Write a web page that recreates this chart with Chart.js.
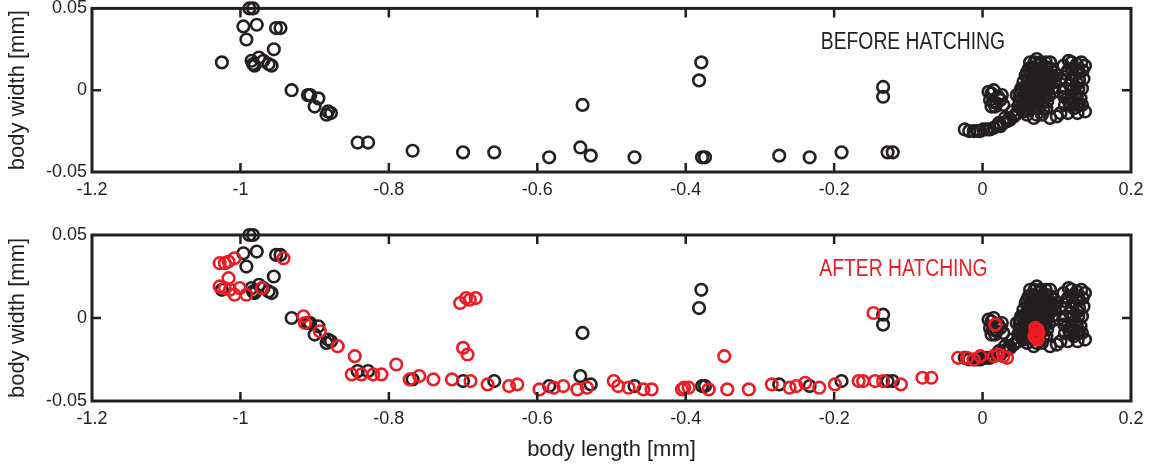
<!DOCTYPE html>
<html>
<head>
<meta charset="utf-8">
<script src="https://cdn.jsdelivr.net/npm/chart.js@4/dist/chart.umd.min.js"></script>
<style>
  body { margin: 0; background: #fff; }
  #wrap { position: relative; width: 1154px; height: 466px; }
  canvas { position: absolute; left: 0; }
  #before { top: 0; }
  #after { top: 220px; }
</style>
</head>
<body>
<div id="wrap">
  <canvas id="before" width="1154" height="220"></canvas>
  <canvas id="after" width="1154" height="246"></canvas>
</div>
<script>
// body outline samples before hatching (black, shown in both panels)
const beforeX = [
  -0.988, -0.983, -0.996, -0.978, -0.992, -0.952, -0.946, -0.955, -1.025, -0.985,
  -0.981, -0.975, -0.969, -0.962, -0.958, -0.983, -0.931, -0.909, -0.906, -0.895,
  -0.900, -0.882, -0.878, -0.884, -0.842, -0.828, -0.768, -0.700, -0.658, -0.584,
  -0.542, -0.539, -0.528, -0.469, -0.379, -0.382, -0.378, -0.374, -0.274, -0.233,
  -0.190, -0.128, -0.121, -0.134, -0.134,
  // tail end near the origin
  -0.024, -0.012, -0.003, 0.006, 0.015, 0.024, 0.033, 0.042, 0.048, 0.040, 0.036,
  -0.018, -0.007, 0.001, 0.010, 0.019, 0.028, 0.037, 0.044, 0.030, 0.022,
  0.008, 0.015, 0.026, 0.010, 0.019, 0.028, 0.012, 0.012, 0.021, 0.014, 0.024, 0.017,
  // main cluster
  0.073, 0.091, 0.060, 0.082, 0.066, 0.087, 0.060, 0.078, 0.055, 0.073,
  0.096, 0.100, 0.051, 0.048, 0.069, 0.046, 0.064, 0.080, 0.071, 0.084,
  0.062, 0.075, 0.089, 0.064, 0.082, 0.068, 0.077, 0.057, 0.070, 0.085,
  0.079, 0.066, 0.092, 0.058, 0.074, 0.086, 0.062, 0.053,
  0.070, 0.078, 0.085,
  0.062, 0.070, 0.081, 0.092,
  0.058, 0.064, 0.072, 0.079, 0.086, 0.094,
  0.055, 0.061, 0.068, 0.075, 0.082, 0.090, 0.097,
  0.052, 0.059, 0.065, 0.073, 0.080, 0.088, 0.094,
  0.050, 0.056, 0.063, 0.069, 0.076, 0.083, 0.090,
  0.050, 0.057, 0.066, 0.073, 0.080, 0.087,
  0.052, 0.059, 0.067, 0.076, 0.086,
  0.060, 0.073, 0.080,
  // right-hand column
  0.116, 0.127, 0.138, 0.123, 0.136, 0.118, 0.134, 0.114, 0.132, 0.123,
  0.138, 0.100, 0.091, 0.109, 0.105, 0.109, 0.120, 0.130, 0.125, 0.128,
  0.117, 0.130, 0.112,
  0.120, 0.133, 0.115, 0.126, 0.135, 0.112, 0.120, 0.130, 0.112, 0.122,
  0.129, 0.110, 0.120, 0.127, 0.111, 0.119, 0.127, 0.134, 0.105, 0.115, 0.128
];
const beforeY = [
  0.050, 0.050, 0.039, 0.040, 0.031, 0.038, 0.038, 0.025, 0.017, 0.018,
  0.015, 0.020, 0.018, 0.016, 0.015, 0.016, 0.000, -0.003, -0.003, -0.005,
  -0.010, -0.013, -0.014, -0.015, -0.032, -0.032, -0.037, -0.038, -0.038, -0.041,
  -0.035, -0.009, -0.040, -0.041, 0.017, 0.006, -0.041, -0.041, -0.040, -0.041,
  -0.038, -0.038, -0.038, 0.002, -0.004,
  -0.024, -0.025, -0.025, -0.024, -0.023, -0.022, -0.019, -0.016, -0.014, -0.013, -0.017,
  -0.025, -0.025, -0.024, -0.024, -0.022, -0.020, -0.018, -0.015, -0.017, -0.020,
  -0.001, 0.000, -0.003, -0.006, -0.008, -0.009, -0.010, -0.002, -0.004, -0.007, -0.006, -0.010,
  0.019, 0.017, 0.011, 0.011, 0.003, 0.005, -0.005, -0.005, -0.013, -0.011,
  -0.001, 0.009, -0.001, -0.010, -0.017, -0.003, 0.017, 0.007, -0.001, 0.001,
  0.006, 0.013, 0.010, -0.008, -0.011, 0.009, 0.002, 0.002, -0.006, -0.004,
  0.016, 0.014, 0.004, -0.008, 0.006, 0.014, -0.012, -0.006,
  0.017, 0.017, 0.017,
  0.013, 0.013, 0.013, 0.013,
  0.009, 0.009, 0.009, 0.009, 0.009, 0.009,
  0.005, 0.005, 0.005, 0.005, 0.005, 0.005, 0.005,
  0.001, 0.001, 0.001, 0.001, 0.001, 0.001, 0.001,
  -0.003, -0.003, -0.003, -0.003, -0.003, -0.003, -0.003,
  -0.007, -0.007, -0.007, -0.007, -0.007, -0.007,
  -0.011, -0.011, -0.011, -0.011, -0.011,
  -0.015, -0.015, -0.015,
  0.018, 0.016, 0.015, 0.009, 0.007, 0.003, 0.001, -0.005, -0.005, -0.011,
  -0.013, -0.016, -0.017, -0.001, 0.007, 0.015, 0.013, 0.011, -0.002, 0.004,
  -0.008, -0.009, 0.010,
  0.017, 0.017, 0.012, 0.012, 0.012, 0.006, 0.006, 0.006, 0.001, 0.001,
  0.001, -0.004, -0.004, -0.004, -0.009, -0.009, -0.009, -0.009, -0.014, -0.014, -0.014
];

// samples after hatching (red, bottom panel only)
const afterX = [
  -1.028, -1.021, -1.016, -1.008, -0.942, -1.016,
  -1.028, -1.021, -1.014, -1.008, -1.001, -0.992, -0.971,
  -0.915, -0.913, -0.893, -0.869, -0.846,
  -0.850, -0.837, -0.821, -0.810, -0.790,
  -0.772, -0.759, -0.740, -0.715, -0.690, -0.667, -0.638, -0.627, -0.597, -0.578,
  -0.565, -0.546, -0.533, -0.497, -0.491, -0.477, -0.457, -0.446, -0.405, -0.402,
  -0.396, -0.369, -0.348, -0.344, -0.315,
  -0.704, -0.696, -0.691, -0.683, -0.700, -0.694,
  -0.284, -0.260, -0.251, -0.239, -0.220, -0.199, -0.167, -0.161, -0.145, -0.134,
  -0.110, -0.081, -0.069, -0.147,
  -0.033, -0.021, -0.012, -0.003, 0.015, 0.021, 0.028, 0.033,
  0.017,
  0.071, 0.072, 0.074, 0.073, 0.070, 0.075, 0.071, 0.074
];
const afterY = [
  0.033, 0.033, 0.034, 0.036, 0.036, 0.024,
  0.019, 0.018, 0.017, 0.014, 0.018, 0.014, 0.018,
  0.001, -0.003, -0.008, -0.017, -0.023,
  -0.034, -0.034, -0.034, -0.034, -0.028,
  -0.037, -0.035, -0.037, -0.037, -0.038, -0.040, -0.041, -0.040, -0.043, -0.042,
  -0.041, -0.043, -0.042, -0.038, -0.041, -0.042, -0.043, -0.043, -0.043, -0.042,
  -0.042, -0.043, -0.023, -0.043, -0.043,
  0.009, 0.012, 0.011, 0.012, -0.018, -0.022,
  -0.040, -0.042, -0.041, -0.039, -0.042, -0.040, -0.038, -0.038, -0.038, -0.038,
  -0.040, -0.036, -0.036, 0.003,
  -0.024, -0.024, -0.025, -0.023, -0.023, -0.022, -0.023, -0.024,
  -0.004,
  -0.009, -0.012, -0.007, -0.010, -0.011, -0.009, -0.006, -0.013
];

const xTicks = [-1.2, -1, -0.8, -0.6, -0.4, -0.2, 0, 0.2];
const yTicks = [-0.05, 0, 0.05];
const panelLabels = ["BEFORE HATCHING", "AFTER HATCHING"];
const labelAt = [[-0.218, 0.029], [-0.220, 0.029]];

const ink = "#231f20";
const red = "#ed1c24";
const fontFamily = "'Liberation Sans', Arial, sans-serif";

const toPoints = (xs, ys) => xs.map((x, i) => ({ x: x, y: ys[i] }));

// box around the plot, inward tick marks and the panel caption
const framePlugin = {
  id: "frame",
  afterDatasetsDraw(chart, args, opts) {
    const { ctx, chartArea: a } = chart;
    const xs = chart.scales.x, ys = chart.scales.y;
    ctx.save();
    ctx.strokeStyle = ink;
    ctx.lineWidth = 3;
    ctx.strokeRect(a.left, a.top, a.right - a.left, a.bottom - a.top);
    ctx.lineWidth = 2.5;
    ctx.beginPath();
    xTicks.forEach((v) => {
      const px = xs.getPixelForValue(v);
      if (px > a.left + 3 && px < a.right - 3) {
        ctx.moveTo(px, a.top); ctx.lineTo(px, a.top + 9);
        ctx.moveTo(px, a.bottom); ctx.lineTo(px, a.bottom - 9);
      }
    });
    yTicks.forEach((v) => {
      const py = ys.getPixelForValue(v);
      if (py > a.top + 3 && py < a.bottom - 3) {
        ctx.moveTo(a.left, py); ctx.lineTo(a.left + 9, py);
        ctx.moveTo(a.right, py); ctx.lineTo(a.right - 9, py);
      }
    });
    ctx.stroke();

    // caption, slightly condensed
    const lx = xs.getPixelForValue(opts.at[0]);
    const ly = ys.getPixelForValue(opts.at[1]);
    ctx.font = "23px " + fontFamily;
    ctx.fillStyle = opts.color;
    ctx.textBaseline = "middle";
    ctx.textAlign = "left";
    ctx.translate(lx, ly);
    ctx.scale(0.84, 1);
    ctx.fillText(opts.text, 0, 0);
    ctx.restore();
  }
};

function makeChart(id, datasets, opts) {
  return new Chart(document.getElementById(id), {
    type: "scatter",
    data: { datasets: datasets },
    options: {
      responsive: false,
      animation: false,
      events: [],
      layout: { padding: { top: opts.padTop, right: 23, left: 0, bottom: 0 } },
      plugins: {
        legend: { display: false },
        tooltip: { enabled: false },
        frame: { text: opts.label, color: opts.labelColor, at: opts.labelAt }
      },
      scales: {
        x: {
          type: "linear",
          min: -1.2,
          max: 0.2,
          grid: { display: false, drawTicks: false },
          border: { display: false },
          ticks: {
            color: ink,
            font: { family: fontFamily, size: 18 },
            padding: 7,
            autoSkip: false,
            maxRotation: 0,
            callback: (v) => String(v)
          },
          afterBuildTicks: (s) => { s.ticks = xTicks.map((v) => ({ value: v })); },
          afterFit: (s) => { s.height = opts.xHeight; s.paddingLeft = 0; s.paddingRight = 0; },
          title: {
            display: opts.xTitle,
            text: "body length [mm]",
            color: ink,
            font: { family: fontFamily, size: 22 },
            padding: { top: 0, bottom: 3 }
          }
        },
        y: {
          type: "linear",
          min: -0.05,
          max: 0.05,
          grid: { display: false, drawTicks: false },
          border: { display: false },
          ticks: {
            color: ink,
            font: { family: fontFamily, size: 18 },
            padding: 5,
            callback: (v) => String(v)
          },
          afterBuildTicks: (s) => { s.ticks = yTicks.map((v) => ({ value: v })); },
          afterFit: (s) => { s.width = 92; s.paddingTop = 0; s.paddingBottom = 0; },
          title: {
            display: true,
            text: "body width [mm]",
            color: ink,
            font: { family: fontFamily, size: 22 },
            padding: { top: 5, bottom: 0 }
          }
        }
      }
    },
    plugins: [framePlugin]
  });
}

const marker = (color) => ({
  pointStyle: "circle",
  pointRadius: 5.8,
  pointBorderWidth: 2.6,
  pointBorderColor: color,
  pointBackgroundColor: "rgba(0,0,0,0)",
  clip: false
});

makeChart("before", [
  Object.assign({ label: "before", data: toPoints(beforeX, beforeY) }, marker(ink))
], { padTop: 6, xHeight: 48, xTitle: false, label: panelLabels[0], labelColor: ink, labelAt: labelAt[0] });

// red drawn first in the list so it sits above the black markers
makeChart("after", [
  Object.assign({ label: "after", data: toPoints(afterX, afterY) }, marker(red)),
  Object.assign({ label: "before", data: toPoints(beforeX, beforeY) }, marker(ink))
], { padTop: 15, xHeight: 65, xTitle: true, label: panelLabels[1], labelColor: red, labelAt: labelAt[1] });
</script>
</body>
</html>
